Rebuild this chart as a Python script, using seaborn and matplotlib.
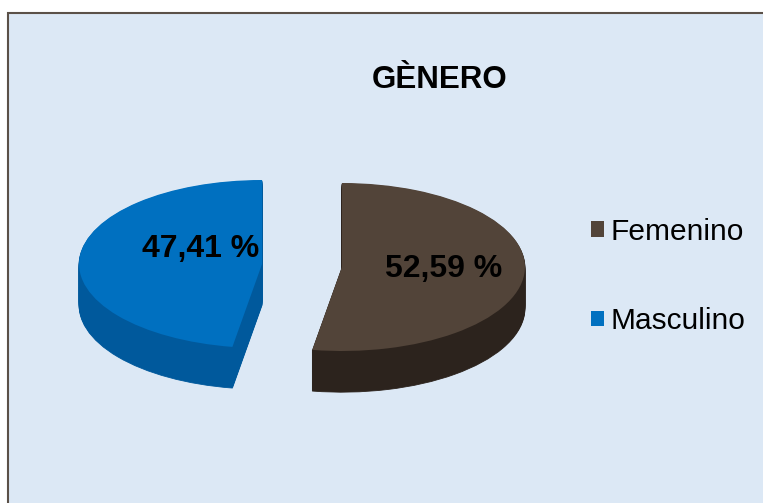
import numpy as np
import matplotlib
matplotlib.use('Agg')
import matplotlib.pyplot as plt
from matplotlib.patches import Rectangle
import seaborn as sns

# ---- data ----
categories = ["Femenino", "Masculino"]
values = [52.59, 47.41]
title = "GÈNERO"

top_colors = ["#524439", "#0070c0"]
side_colors = ["#2c231d", "#00599c"]

sns.set_theme(style="white")
plt.rcParams['font.family'] = ['Liberation Sans', 'DejaVu Sans']

W, H = 763, 503
fig = plt.figure(figsize=(W / 100, H / 100), dpi=100)
fig.patch.set_facecolor('white')
fig.patches.append(Rectangle((8 / W, -0.05), 1.1, 1 - 13 / H + 0.05,
                             transform=fig.transFigure, facecolor='#dce8f5',
                             edgecolor='#5b5148', linewidth=1.5, zorder=-5))

ax = fig.add_axes([0, 0, 1, 1])
ax.patch.set_visible(False)

explode = [0.219, 0.219]
depth = 0.49
cx_px, cy_px, a_px, b_px = 302, 265.5, 183, 84

for d in np.linspace(depth, 0.0, 40)[:-1]:
    ax.pie(values, colors=side_colors, startangle=90, counterclock=False,
           explode=explode, center=(0, -d),
           wedgeprops=dict(linewidth=0.6))
    for w, c in zip(ax.patches[-2:], side_colors):
        w.set_edgecolor(c)

wedges, texts, autotexts = ax.pie(
    values, colors=top_colors, startangle=90, counterclock=False,
    explode=explode, center=(0, 0),
    autopct=lambda p: f"{p:.2f} %".replace('.', ','),
    wedgeprops=dict(linewidth=0),
    textprops=dict(fontsize=23, fontweight='bold', color='black'))

label_pos = [((444 - cx_px) / a_px, (cy_px - 269) / b_px),
             ((201 - cx_px) / a_px, (cy_px - 249) / b_px)]
for t, p in zip(autotexts, label_pos):
    t.set_position(p)
    t.set_ha('center')
    t.set_va('center')

ax.set_aspect('auto')
ax.set_xlim(-cx_px / a_px, (W - cx_px) / a_px)
ax.set_ylim(-(H - cy_px) / b_px, cy_px / b_px)
ax.set_axis_off()

ax.legend(wedges, categories, loc='center left',
          bbox_to_anchor=(591 / W, 1 - 276.5 / H), bbox_transform=fig.transFigure,
          frameon=False, fontsize=21.5, handlelength=0.42, handleheight=0.42,
          handletextpad=0.22, labelspacing=2.05, borderpad=0, borderaxespad=0,
          labelcolor='black')

fig.text(440 / W, 1 - 80 / H, title, ha='center', va='center',
         fontsize=22.5, fontweight='bold', color='black')

fig.savefig('out.png', dpi=100, facecolor=fig.get_facecolor())
